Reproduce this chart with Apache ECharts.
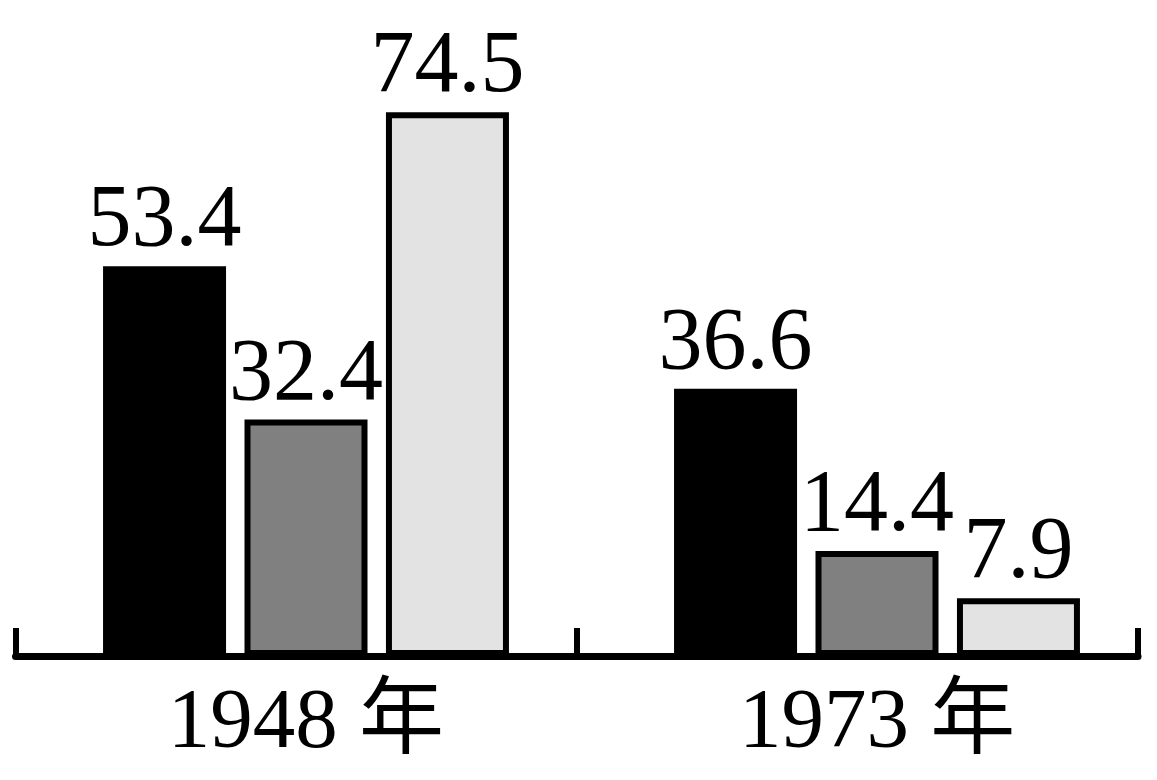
<!DOCTYPE html>
<html>
<head>
<meta charset="utf-8">
<script src="https://cdn.jsdelivr.net/npm/echarts@6/dist/echarts.min.js"></script>
<style>
  html, body { margin: 0; padding: 0; background: #fff; }
  #chart { width: 1157px; height: 780px; }
</style>
</head>
<body>
<div id="chart"></div>
<script>
const categories = ['1948 年', '1973 年']
const seriesA = [53.4, 36.6]
const seriesB = [32.4, 14.4]
const seriesC = [74.5, 7.9]

const font = '"Liberation Serif", "Times New Roman", "Noto Sans CJK SC", serif'
const chart = echarts.init(document.getElementById('chart'), null, { renderer: 'canvas' })

function bar(name, data, color) {
  return {
    name,
    type: 'bar',
    xAxisIndex: 0,
    yAxisIndex: 0,
    clip: false,
    barWidth: 123,
    barGap: '15%',
    data,
    itemStyle: { color, borderColor: '#000', borderWidth: 6 },
    label: {
      show: true,
      position: 'top',
      distance: 0,
      color: '#000',
      fontFamily: font,
      fontSize: 88,
    },
    silent: true,
    animation: false,
  }
}

chart.setOption({
  backgroundColor: '#fff',
  animation: false,
  grid: [
    // bar groups sit a little right of the tick-centred slots, so they get
    // their own grid whose two edges are the group centres
    { left: 306, width: 571, top: 72, bottom: 124, containLabel: false },
    { left: 15.5, right: 19, top: 72, bottom: 124, containLabel: false },
  ],
  xAxis: [
    {
      type: 'category',
      gridIndex: 0,
      data: categories,
      boundaryGap: false,
      axisLine: { show: false },
      axisTick: { show: false },
      axisLabel: { color: '#000', fontFamily: font, fontSize: 85, margin: 26 },
    },
    {
      type: 'category',
      gridIndex: 1,
      data: categories,
      axisLine: { show: true, lineStyle: { color: '#000', width: 7 } },
      axisTick: { show: true, inside: true, length: 28, lineStyle: { color: '#000', width: 6 } },
      axisLabel: { show: false },
      z: 10,
    },
  ],
  yAxis: [
    { type: 'value', gridIndex: 0, min: 0, max: 80, show: false },
    { type: 'value', gridIndex: 1, min: 0, max: 80, show: false },
  ],
  series: [
    bar('a', seriesA, '#000000'),
    bar('b', seriesB, '#808080'),
    bar('c', seriesC, '#e3e3e3'),
  ],
})
</script>
</body>
</html>
